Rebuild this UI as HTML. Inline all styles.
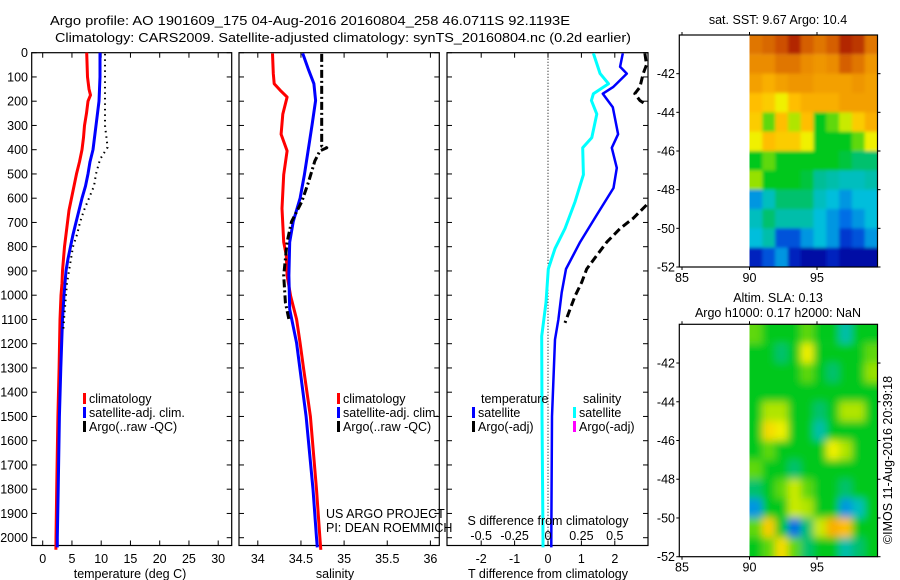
<!DOCTYPE html>
<html><head><meta charset="utf-8"><style>
html,body{margin:0;padding:0;background:#fff}
svg{display:block;font-family:"Liberation Sans",sans-serif}
</style></head><body>
<svg id="fig" width="900" height="580" viewBox="0 0 900 580" xmlns="http://www.w3.org/2000/svg">
<defs>
<filter id="blurSla" x="-5%" y="-5%" width="110%" height="110%"><feGaussianBlur stdDeviation="4"/></filter>
<filter id="blurSst" x="-5%" y="-5%" width="110%" height="110%"><feGaussianBlur stdDeviation="1.5"/></filter>
</defs>
<rect width="900" height="580" fill="#fff"/>
<text x="50" y="25" font-size="13" textLength="520" lengthAdjust="spacingAndGlyphs">Argo profile: AO 1901609_175 04-Aug-2016 20160804_258 46.0711S 92.1193E</text>
<text x="55" y="42" font-size="13" textLength="576" lengthAdjust="spacingAndGlyphs">Climatology: CARS2009. Satellite-adjusted climatology: synTS_20160804.nc (0.2d earlier)</text>
<g id="layer"></g>
</svg>
<script>
// ---------- data ----------
const depthTicks=[0,100,200,300,400,500,600,700,800,900,1000,1100,1200,1300,1400,1500,1600,1700,1800,1900,2000];
const tempTicks=[0,5,10,15,20,25,30];
const salTicks=[34,34.5,35,35.5,36];
const tdiffTicks=[-2,-1,0,1,2];
const sdiffTickLabels=["-0.5","-0.25","0","0.25","0.5"];
// temperature climatology
const tClimDepth=[0,100,150,175,200,250,300,350,400,450,500,550,600,650,700,750,800,850,900,950,1000,1100,1300,1500,1800,2000,2050];
const tClimVal=[7.52,7.66,7.91,8.17,7.74,7.49,7.15,6.97,6.72,6.29,5.78,5.35,4.92,4.5,4.24,3.98,3.73,3.56,3.38,3.3,3.13,2.96,2.8,2.6,2.4,2.27,2.25];
const tSatDepth=[0,100,200,300,400,450,500,550,600,650,700,750,800,850,900,950,1000,1100,1300,1500,1800,2000,2040];
const tSatVal=[9.79,9.79,9.62,9.11,8.6,8.09,7.74,7.32,6.72,6.21,5.69,5.18,4.75,4.32,3.98,3.81,3.64,3.38,3.1,2.85,2.65,2.5,2.5];
const tArgoDepth=[5,100,200,300,390,440,500,550,600,650,700,750,800,850,900,950,1000,1100,1150];
const tArgoVal=[10.65,10.65,10.65,10.65,11.1,9.79,9.11,8.77,7.91,7.06,6.38,5.86,5.18,4.84,4.5,4.15,3.98,3.64,3.5];
// salinity
const sClimDepth=[3,86,128,155,183,253,336,405,503,642,781,836,919,1003,1100,1197,1300,1500,1800,2000,2050];
const sClimVal=[34.17,34.18,34.19,34.26,34.34,34.29,34.27,34.34,34.3,34.28,34.3,34.33,34.34,34.38,34.45,34.49,34.53,34.61,34.68,34.72,34.73];
const sSatDepth=[3,72,128,197,294,364,503,600,697,781,919,1058,1197,1500,1800,2000,2040];
const sSatVal=[34.52,34.59,34.65,34.67,34.63,34.6,34.54,34.49,34.41,34.37,34.36,34.37,34.45,34.56,34.64,34.68,34.69];
const sArgoDepth=[5,100,200,300,385,392,405,447,531,614,697,781,919,1030,1100];
const sArgoVal=[34.74,34.74,34.74,34.74,34.74,34.8,34.72,34.66,34.59,34.51,34.39,34.34,34.3,34.32,34.36];
// differences (T units; salinity shown x4)
const dTSatDepth=[3,58,86,142,169,225,336,392,475,558,669,781,892,989,1100,1183,1500,2000,2040];
const dTSatVal=[2.24,2.16,2.36,1.95,1.64,1.94,2.1,1.91,2.06,1.96,1.46,0.96,0.54,0.41,0.31,0.21,0.12,0.1,0.1];
const dSSatDepth=[3,86,128,169,197,253,350,392,503,614,725,808,892,1030,1169,1500,2000,2040];
const dSSatVal=[1.36,1.56,1.81,1.36,1.3,1.46,1.31,1.04,1.06,0.81,0.51,0.21,0.01,-0.06,-0.19,-0.18,-0.15,-0.15];
const dTArgoDepth1=[3,50,86,142,169,197,211];
const dTArgoVal1=[2.9,2.95,2.85,2.75,2.6,2.75,2.9];
const dTArgoDepth2=[628,683,725,781,836,892,947,1003,1058,1114];
const dTArgoVal2=[2.95,2.55,2.16,1.76,1.46,1.16,1.01,0.81,0.66,0.51];
// maps (rows from -40 to -52 lat, cols lon 90..99.4)
const lonTicks=[85,90,95];
const latTicks=[-42,-44,-46,-48,-50,-52];
const sstGrid=[
[.85,.87,.9,.95,.88,.85,.88,.95,.93,.85],
[.82,.82,.85,.85,.82,.8,.82,.88,.85,.8],
[.78,.75,.78,.8,.8,.78,.78,.78,.8,.78],
[.72,.7,.65,.72,.75,.75,.75,.78,.78,.78],
[.7,.55,.72,.6,.72,.5,.55,.62,.7,.75],
[.65,.72,.7,.7,.65,.5,.5,.5,.55,.65],
[.5,.55,.5,.5,.5,.5,.5,.48,.45,.45],
[.58,.5,.5,.5,.48,.42,.4,.38,.38,.4],
[.3,.38,.45,.45,.45,.38,.35,.3,.35,.35],
[.38,.45,.4,.4,.4,.35,.3,.25,.3,.35],
[.35,.4,.2,.2,.3,.35,.3,.15,.2,.3],
[.1,.2,.3,.1,.05,.05,.1,.05,.05,.05]];
const slaGrid=[
[.55,.5,.5,.5,.55,.5,.5,.4,.5,.5],
[.5,.5,.45,.5,.65,.5,.5,.5,.5,.55],
[.5,.5,.5,.5,.55,.5,.45,.5,.5,.58],
[.5,.5,.5,.5,.5,.5,.5,.5,.5,.5],
[.5,.6,.6,.5,.5,.45,.5,.6,.6,.5],
[.5,.68,.65,.5,.5,.4,.5,.5,.5,.5],
[.5,.55,.5,.5,.5,.5,.65,.6,.5,.5],
[.55,.5,.5,.45,.5,.5,.5,.5,.5,.5],
[.45,.5,.55,.62,.55,.5,.5,.45,.5,.5],
[.3,.5,.5,.62,.6,.5,.5,.3,.38,.5],
[.55,.7,.5,.25,.45,.62,.75,.72,.5,.5],
[.5,.55,.68,.55,.45,.5,.5,.4,.45,.5]];

// ---------- drawing ----------
const NS="http://www.w3.org/2000/svg";
const L=document.getElementById('layer');
function el(tag,attrs,parent){const e=document.createElementNS(NS,tag);for(const k in attrs)e.setAttribute(k,attrs[k]);(parent||L).appendChild(e);return e;}
const TOP=52.7,BOT=545.5;
const yD=d=>TOP+d*0.2425;
const P1={l:31.7,r:231.7,x:v=>42.7+v*5.85};
const P2={l:239,r:439.3,x:v=>257.8+(v-34)*86.3};
const P3={l:447,r:648,x:v=>548+v*33.4};

function box(P,name){
  const r=el('rect',{x:P.l,y:TOP,width:P.r-P.l,height:BOT-TOP,fill:'none',stroke:'#000','stroke-width':1.2});
  
  
  depthTicks.forEach(d=>{
    el('line',{x1:P.l,x2:P.l+5,y1:yD(d),y2:yD(d),stroke:'#000'});
    el('line',{x1:P.r,x2:P.r-5,y1:yD(d),y2:yD(d),stroke:'#000'});
  });
}
function line(P,vals,depths,color,w,dash,name){
  let d='';vals.forEach((v,i)=>{d+=(i?'L':'M')+P.x(v).toFixed(1)+' '+yD(depths[i]).toFixed(1);});
  const p=el('path',{d:d,fill:'none',stroke:color,'stroke-width':w,'stroke-dasharray':dash||'none','stroke-linejoin':'round'});
  
  
}
function txt(x,y,s,o,name){
  const t=el('text',Object.assign({x:x,y:y,'font-size':12.5},o||{}));t.textContent=s;
  
  
  return t;
}
function xticks(P,ticks,labels,name){
  ticks.forEach((v,i)=>{const x=P.x(v);
    el('line',{x1:x,x2:x,y1:TOP,y2:TOP+5,stroke:'#000'});
    el('line',{x1:x,x2:x,y1:BOT,y2:BOT-5,stroke:'#000'});
    txt(x,563,labels?labels[i]:String(v),{'text-anchor':'middle'},name);
  });
}
function legendEntry(x,y,color,label,name){
  const r=el('rect',{x:x,y:y-10,width:3,height:11,fill:color});
  
  
  txt(x+6,y,label,{},name);
}

// panel 1
box(P1,'temperature-panel');
depthTicks.forEach(d=>txt(28,yD(d)+4.5,String(d),{'text-anchor':'end'},'depth-tick-label'));
xticks(P1,tempTicks,null,'temperature-tick-label');
line(P1,tClimVal,tClimDepth,'#ff0000',3,null,'temperature-climatology-line');
line(P1,tSatVal,tSatDepth,'#0000ff',3,null,'temperature-satellite-line');
line(P1,tArgoVal,tArgoDepth,'#000',2,'1.5 4','temperature-argo-line');
txt(130,578,'temperature (deg C)',{'text-anchor':'middle'},'temperature-axis-title');
legendEntry(83,403,'#ff0000','climatology','legend-climatology');
legendEntry(83,417,'#0000ff','satellite-adj. clim.','legend-satellite-adj');
legendEntry(83,431,'#000','Argo(..raw -QC)','legend-argo');

// panel 2
box(P2,'salinity-panel');
xticks(P2,salTicks,null,'salinity-tick-label');
line(P2,sClimVal,sClimDepth,'#ff0000',3,null,'salinity-climatology-line');
line(P2,sSatVal,sSatDepth,'#0000ff',3,null,'salinity-satellite-line');
line(P2,sArgoVal,sArgoDepth,'#000',3,'8 3 2 3','salinity-argo-line');
txt(335,578,'salinity',{'text-anchor':'middle'},'salinity-axis-title');
legendEntry(337,403,'#ff0000','climatology','legend-climatology-2');
legendEntry(337,417,'#0000ff','satellite-adj. clim.','legend-satellite-adj-2');
legendEntry(337,431,'#000','Argo(..raw -QC)','legend-argo-2');
txt(326,518,'US ARGO PROJECT',{},'project-label');
txt(326,532,'PI: DEAN ROEMMICH',{},'pi-label');

// panel 3
box(P3,'difference-panel');
xticks(P3,tdiffTicks,null,'tdiff-tick-label');
el('line',{x1:P3.x(0),x2:P3.x(0),y1:TOP,y2:BOT,stroke:'#000','stroke-dasharray':'1 2'});
line(P3,dSSatVal,dSSatDepth,'#00ffff',3,null,'salinity-diff-satellite-line');
line(P3,dTSatVal,dTSatDepth,'#0000ff',2.5,null,'temperature-diff-satellite-line');
line(P3,dTArgoVal1,dTArgoDepth1,'#000',3,'8 4','temperature-diff-argo-line-top');
line(P3,dTArgoVal2,dTArgoDepth2,'#000',3,'8 4','temperature-diff-argo-line');
tdiffTicks.forEach((v,i)=>txt(P3.x(v),540,sdiffTickLabels[i],{'text-anchor':'middle'},'sdiff-tick-label'));
txt(548,525,'S difference from climatology',{'text-anchor':'middle'},'sdiff-axis-title');
txt(548,578,'T difference from climatology',{'text-anchor':'middle'},'tdiff-axis-title');
txt(481,403,'temperature',{},'legend-temperature-header');
txt(583,403,'salinity',{},'legend-salinity-header');
legendEntry(472,417,'#0000ff','satellite','legend-temp-satellite');
legendEntry(472,431,'#000','Argo(-adj)','legend-temp-argo');
legendEntry(573,417,'#00ffff','satellite','legend-sal-satellite');
legendEntry(573,431,'#ff00ff','Argo(-adj)','legend-sal-argo');

// maps
const stops=[[0,[0,0,140]],[.12,[0,40,200]],[.25,[0,110,230]],[.35,[0,190,220]],[.43,[0,190,140]],[.5,[0,200,30]],[.58,[150,225,0]],[.65,[240,240,0]],[.72,[255,190,0]],[.82,[235,140,0]],[.9,[205,80,0]],[1,[150,0,0]]];
function cmap(t){for(let i=1;i<stops.length;i++){if(t<=stops[i][0]){const a=stops[i-1],b=stops[i],f=(t-a[0])/(b[0]-a[0]);return 'rgb('+a[1].map((c,k)=>Math.round(c+(b[1][k]-c)*f)).join(',')+')';}}return 'rgb(150,0,0)';}
let clipN=0;
function map(top,bot,grid,name,filt){
  const l=679.3,r=877.5;
  const lx=v=>682+(v-85)*13.5;
  const ly=v=>top+(-40-v)*(bot-top)/12;
  const nr=grid.length,nc=grid[0].length,x0=lx(90),cw=(r-x0)/nc,rh=(bot-top)/nr;
  const cid='clip'+(clipN++);
  const cp=el('clipPath',{id:cid});
  el('rect',{x:x0,y:top,width:r-x0,height:bot-top},cp);
  const outer=el('g',{'clip-path':'url(#'+cid+')'});
  const g=el('g',{filter:'url(#'+filt+')'},outer);
  grid.forEach((row,i)=>row.forEach((v,j)=>{
    const pad=(j==nc-1?8:0.5),padY=(i==nr-1||i==0?8:0.5);
    const c=el('rect',{x:(x0+j*cw-(j==0?8:0)).toFixed(2),y:(top+i*rh-(i==0?8:0)).toFixed(2),width:(cw+pad+(j==0?8:0)).toFixed(2),height:(rh+padY).toFixed(2),fill:cmap(v)},g);
    
    
  }));
  const b=el('rect',{x:l,y:top,width:r-l,height:bot-top,fill:'none',stroke:'#000','stroke-width':1.2});
  
  
  lonTicks.forEach(v=>{const x=lx(v);el('line',{x1:x,x2:x,y1:top,y2:top-3,stroke:'#000'});el('line',{x1:x,x2:x,y1:bot,y2:bot+3,stroke:'#000'});txt(x,bot+15,String(v),{'text-anchor':'middle'},name+'-lon-label');});
  latTicks.forEach(v=>{const y=ly(v);el('line',{x1:l,x2:l-3,y1:y,y2:y,stroke:'#000'});el('line',{x1:r,x2:r+3,y1:y,y2:y,stroke:'#000'});txt(675,y+4.5,String(v),{'text-anchor':'end'},name+'-lat-label');});
}
map(35,267,sstGrid,'sst-map','blurSst');
txt(778,24,'sat. SST: 9.67 Argo: 10.4',{'text-anchor':'middle'},'sst-map-title');
map(324.3,556.7,slaGrid,'sla-map','blurSla');
txt(778,302,'Altim. SLA: 0.13',{'text-anchor':'middle'},'sla-map-title');
txt(778,317,'Argo h1000: 0.17 h2000: NaN',{'text-anchor':'middle'},'sla-map-subtitle');
txt(892,460,'©IMOS 11-Aug-2016 20:39:18',{'text-anchor':'middle',transform:'rotate(-90 892 460)'},'imos-timestamp');
</script>
</body></html>
